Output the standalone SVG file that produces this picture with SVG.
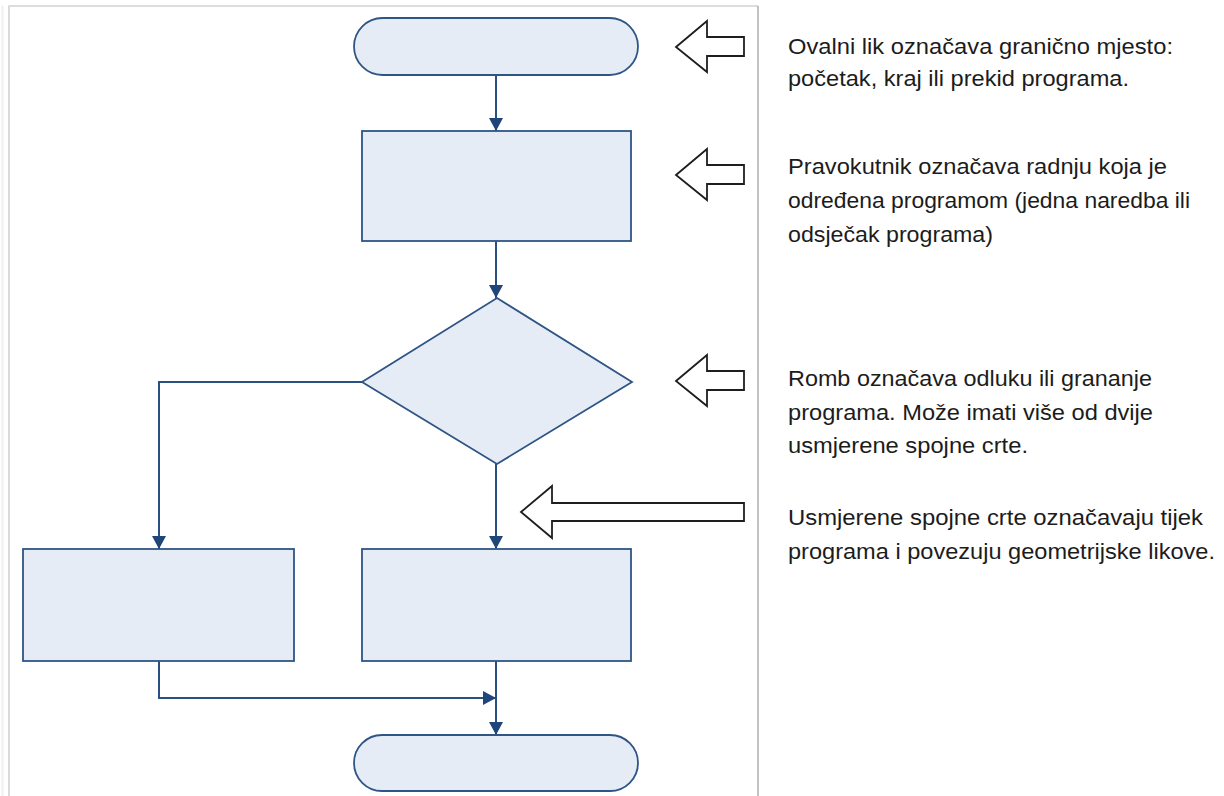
<svg xmlns="http://www.w3.org/2000/svg" width="1224" height="796" viewBox="0 0 1224 796">
<style>
.shape{fill:#e6ecf6;stroke:#2f5585;stroke-width:1.8}
.conn{fill:none;stroke:#2a4f82;stroke-width:2}
.block{fill:#ffffff;stroke:#1e1e1e;stroke-width:1.8;stroke-linejoin:miter}
.txt{font-family:"Liberation Sans",Arial,sans-serif;font-size:22px;fill:#1c1c1c}
</style>
<defs>
<marker id="ah" markerUnits="userSpaceOnUse" markerWidth="14" markerHeight="14" refX="13" refY="7" orient="auto">
<path d="M0,0 L13,7 L0,14 z" fill="#1f457a"/>
</marker>
</defs>
<rect x="0" y="0" width="1224" height="796" fill="#ffffff"/>
<g id="frame">
<line x1="2.5" y1="6" x2="2.5" y2="796" stroke="#efefef" stroke-width="2"/>
<path d="M9,796 V6 H758" fill="none" stroke="#d2d2d2" stroke-width="1.6"/>
<line x1="758" y1="6" x2="758" y2="796" stroke="#a8a8a8" stroke-width="1.4"/>
</g>
<g id="connectors">
<path class="conn" d="M496,75 V131" marker-end="url(#ah)"/>
<path class="conn" d="M496,241 V298" marker-end="url(#ah)"/>
<path class="conn" d="M362,382 H159 V549" marker-end="url(#ah)"/>
<path class="conn" d="M496,464 V549" marker-end="url(#ah)"/>
<path class="conn" d="M159,661 V698 H496" marker-end="url(#ah)"/>
<path class="conn" d="M496,661 V735" marker-end="url(#ah)"/>
</g>
<g id="start"><rect class="shape" x="354" y="18" width="284" height="57" rx="28.5" ry="28.5"/></g>
<g id="process1"><rect class="shape" x="362" y="131" width="269" height="110"/></g>
<g id="decision"><polygon class="shape" points="497,298 632,382 497,464 362,382"/></g>
<g id="process2"><rect class="shape" x="23" y="549" width="271" height="112"/></g>
<g id="process3"><rect class="shape" x="362" y="549" width="269" height="112"/></g>
<g id="end"><rect class="shape" x="354" y="735" width="284" height="56" rx="28" ry="28"/></g>
<g id="pointer1"><polygon class="block" points="676,47 707,21 707,37 744,37 744,56 707,56 707,72"/></g>
<g id="pointer2"><polygon class="block" points="676,175 707,149 707,165 744,165 744,184 707,184 707,200"/></g>
<g id="pointer3"><polygon class="block" points="676,381 707,355 707,371 744,371 744,390 707,390 707,406"/></g>
<g id="pointer4"><polygon class="block" points="521,512 552,486 552,503 744,503 744,521 552,521 552,538"/></g>
<g id="label1">
<text class="txt" x="788" y="54" textLength="385" lengthAdjust="spacingAndGlyphs">Ovalni lik označava granično mjesto:</text>
<text class="txt" x="788" y="86" textLength="341" lengthAdjust="spacingAndGlyphs">početak, kraj ili prekid programa.</text>
</g>
<g id="label2">
<text class="txt" x="788" y="174" textLength="379" lengthAdjust="spacingAndGlyphs">Pravokutnik označava radnju koja je</text>
<text class="txt" x="788" y="208" textLength="402" lengthAdjust="spacingAndGlyphs">određena programom (jedna naredba ili</text>
<text class="txt" x="788" y="242" textLength="205" lengthAdjust="spacingAndGlyphs">odsječak programa)</text>
</g>
<g id="label3">
<text class="txt" x="788" y="386" textLength="364" lengthAdjust="spacingAndGlyphs">Romb označava odluku ili grananje</text>
<text class="txt" x="788" y="420" textLength="365" lengthAdjust="spacingAndGlyphs">programa. Može imati više od dvije</text>
<text class="txt" x="788" y="453" textLength="240" lengthAdjust="spacingAndGlyphs">usmjerene spojne crte.</text>
</g>
<g id="label4">
<text class="txt" x="788" y="525" textLength="415" lengthAdjust="spacingAndGlyphs">Usmjerene spojne crte označavaju tijek</text>
<text class="txt" x="788" y="559" textLength="427" lengthAdjust="spacingAndGlyphs">programa i povezuju geometrijske likove.</text>
</g>
</svg>
